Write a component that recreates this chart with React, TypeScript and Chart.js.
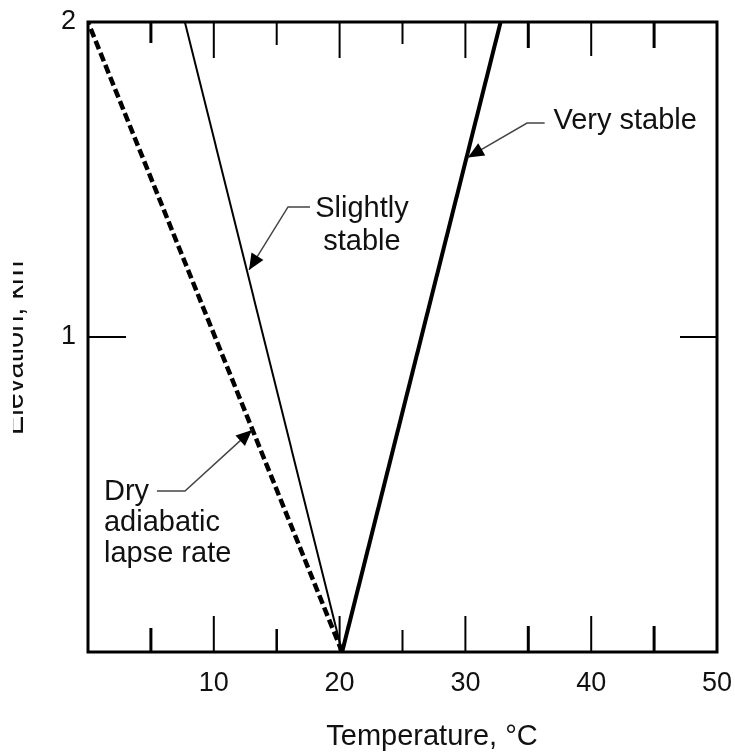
import React, { useEffect, useRef } from "react";
import { Chart, registerables } from "chart.js";

Chart.register(...registerables);

// ---- data ----
const temperatureTickLabels = [10, 20, 30, 40, 50];
const elevationTickLabels = [1, 2];

const dryAdiabaticTemp = [20.2, 0];
const dryAdiabaticElev = [0, 2];
const slightlyStableTemp = [20.2, 7.7];
const slightlyStableElev = [0, 2];
const veryStableTemp = [20.2, 32.8];
const veryStableElev = [0, 2];

// inner tick marks (value, length px, width px)
const bottomTickValues = [5, 10, 15, 20, 25, 30, 35, 40, 45];
const bottomTickLengths = [24, 36, 23, 36, 22, 36, 26, 36, 26];
const bottomTickWidths = [3, 2, 2.5, 2, 2, 2, 3, 2, 3];
const topTickLengths = [21, 36, 23, 36, 22, 36, 26, 34, 26];
const topTickWidths = [3, 2, 2, 2, 2, 2, 3, 2, 3];
const sideTickValues = [1];

// annotations (data coordinates)
const annotationTexts = [["Very stable"], ["Slightly", "stable"], ["Dry", "adiabatic", "lapse rate"]];
const annotationTextX = [37.0, 21.78, 1.27];
const annotationTextY = [[1.66], [1.381, 1.276], [0.483, 0.384, 0.286]];
const annotationAlign = ["left", "center", "left"];
const leaderX = [[36.3, 34.9, 30.2], [17.65, 15.9, 12.8], [5.48, 7.71, 13.04]];
const leaderY = [[1.679, 1.679, 1.57], [1.413, 1.413, 1.213], [0.511, 0.511, 0.705]];

const FONT = "'Liberation Sans', Arial, Helvetica, sans-serif";

const toPoints = (xs: number[], ys: number[]) => xs.map((x, i) => ({ x, y: ys[i] }));

const zeroPad = (s: any) => {
  s.paddingLeft = 0;
  s.paddingRight = 0;
  s.paddingTop = 0;
  s.paddingBottom = 0;
};

const decorPlugin = {
  id: "decor",
  afterDatasetsDraw(chart: any) {
    const ctx = chart.ctx as CanvasRenderingContext2D;
    const xs = chart.scales.x;
    const ys = chart.scales.y;
    const { left, right, top, bottom } = chart.chartArea;
    ctx.save();
    ctx.strokeStyle = "#000";
    ctx.lineCap = "butt";
    bottomTickValues.forEach((v, i) => {
      const px = xs.getPixelForValue(v);
      ctx.lineWidth = bottomTickWidths[i];
      ctx.beginPath();
      ctx.moveTo(px, bottom);
      ctx.lineTo(px, bottom - bottomTickLengths[i]);
      ctx.stroke();
      ctx.lineWidth = topTickWidths[i];
      ctx.beginPath();
      ctx.moveTo(px, top);
      ctx.lineTo(px, top + topTickLengths[i]);
      ctx.stroke();
    });
    sideTickValues.forEach((v) => {
      const py = ys.getPixelForValue(v);
      ctx.lineWidth = 2;
      ctx.beginPath();
      ctx.moveTo(left, py);
      ctx.lineTo(left + 38, py);
      ctx.moveTo(right, py);
      ctx.lineTo(right - 37, py);
      ctx.stroke();
    });
    ctx.lineWidth = 3;
    ctx.strokeRect(left, top, right - left, bottom - top);

    ctx.font = `29px ${FONT}`;
    ctx.textBaseline = "alphabetic";
    annotationTexts.forEach((lines, i) => {
      ctx.fillStyle = "#111";
      ctx.textAlign = annotationAlign[i] as CanvasTextAlign;
      const tx = xs.getPixelForValue(annotationTextX[i]);
      lines.forEach((t, j) => {
        ctx.fillText(t, tx, ys.getPixelForValue(annotationTextY[i][j]));
      });
      const pts = leaderX[i].map((x, k) => [xs.getPixelForValue(x), ys.getPixelForValue(leaderY[i][k])]);
      ctx.strokeStyle = "#444";
      ctx.lineWidth = 1.5;
      ctx.beginPath();
      ctx.moveTo(pts[0][0], pts[0][1]);
      for (let k = 1; k < pts.length; k++) ctx.lineTo(pts[k][0], pts[k][1]);
      ctx.stroke();
      const [x1, y1] = pts[pts.length - 2];
      const [x2, y2] = pts[pts.length - 1];
      const ang = Math.atan2(y2 - y1, x2 - x1);
      const L = 16, W = 7;
      ctx.fillStyle = "#000";
      ctx.beginPath();
      ctx.moveTo(x2, y2);
      ctx.lineTo(x2 - L * Math.cos(ang) + W * Math.sin(ang), y2 - L * Math.sin(ang) - W * Math.cos(ang));
      ctx.lineTo(x2 - L * Math.cos(ang) - W * Math.sin(ang), y2 - L * Math.sin(ang) + W * Math.cos(ang));
      ctx.closePath();
      ctx.fill();
    });

    ctx.fillStyle = "#111";
    ctx.font = `29px ${FONT}`;
    ctx.textAlign = "center";
    ctx.fillText("Temperature, °C", 432, 745);
    ctx.save();
    ctx.beginPath();
    ctx.rect(13, 0, 200, chart.height);
    ctx.clip();
    ctx.translate(23, 348);
    ctx.rotate(-Math.PI / 2);
    ctx.fillText("Elevation, km", 0, 0);
    ctx.restore();
    ctx.restore();
  },
};

export default function App() {
  const ref = useRef<HTMLCanvasElement | null>(null);
  useEffect(() => {
    if (!ref.current) return;
    const chart = new Chart(ref.current, {
      type: "scatter",
      data: {
        datasets: [
          {
            label: "Dry adiabatic lapse rate",
            data: toPoints(dryAdiabaticTemp, dryAdiabaticElev),
            showLine: true,
            borderColor: "#000",
            borderWidth: 4.5,
            borderDash: [9, 4],
            pointRadius: 0,
          },
          {
            label: "Slightly stable",
            data: toPoints(slightlyStableTemp, slightlyStableElev),
            showLine: true,
            borderColor: "#000",
            borderWidth: 2,
            pointRadius: 0,
          },
          {
            label: "Very stable",
            data: toPoints(veryStableTemp, veryStableElev),
            showLine: true,
            borderColor: "#000",
            borderWidth: 4,
            pointRadius: 0,
          },
        ],
      },
      options: {
        animation: false,
        responsive: false,
        layout: { padding: { left: 0, right: 18, top: 22, bottom: 0 } },
        plugins: { legend: { display: false }, tooltip: { enabled: false } },
        scales: {
          x: {
            type: "linear",
            min: 0,
            max: 50,
            grid: { display: false, drawTicks: false },
            border: { display: false },
            afterFit: (s: any) => { s.height = 103; zeroPad(s); },
            ticks: {
              stepSize: 10,
              padding: 15,
              color: "#111",
              font: { size: 27, family: FONT },
              callback: (v: any) => (temperatureTickLabels.includes(Number(v)) ? String(v) : ""),
            },
          },
          y: {
            type: "linear",
            min: 0,
            max: 2,
            grid: { display: false, drawTicks: false },
            border: { display: false },
            afterFit: (s: any) => { s.width = 88; zeroPad(s); },
            ticks: {
              stepSize: 1,
              padding: 12,
              color: "#111",
              font: { size: 27, family: FONT },
              callback: (v: any) => (elevationTickLabels.includes(Number(v)) ? String(v) : ""),
            },
          },
        },
      },
      plugins: [decorPlugin],
    });
    return () => chart.destroy();
  }, []);
  return (
    <canvas
      ref={ref}
      width={735}
      height={755}
      style={{ position: "absolute", left: 0, top: 0, width: 735, height: 755, display: "block" }}
    />
  );
}
